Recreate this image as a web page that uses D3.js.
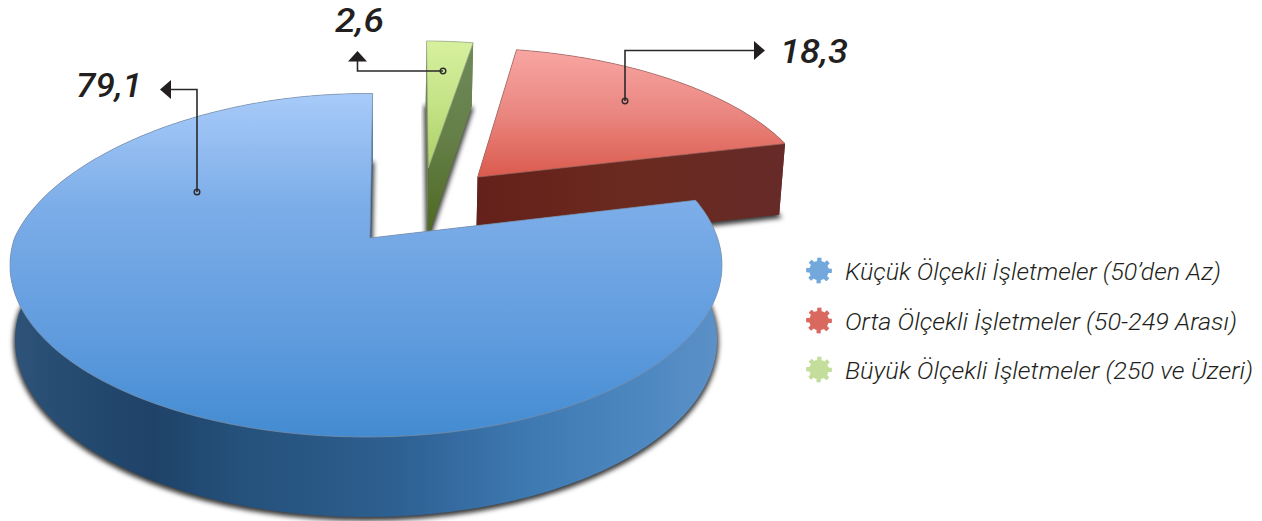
<!DOCTYPE html>
<html>
<head>
<meta charset="utf-8">
<script src="https://d3js.org/d3.v7.min.js"></script>
<style>
  html, body { margin: 0; background: #fff; }
  svg { display: block; }
  text { font-family: Roboto, sans-serif; font-style: italic; fill: #231f20; }
</style>
</head>
<body>
<svg id="chart" width="1262" height="521"></svg>
<script>
const categories = ["Küçük Ölçekli İşletmeler (50’den Az)", "Orta Ölçekli İşletmeler (50-249 Arası)", "Büyük Ölçekli İşletmeler (250 ve Üzeri)"]
const values = [79.1, 18.3, 2.6]
const valueLabels = ["79,1", "18,3", "2,6"]

const svg = d3.select("#chart")
const defs = svg.append("defs")

// floor plane -> screen, a simple perspective so the back of the pie shrinks
const cx = 366, cy = 238, a = 351.5, b = 167.4, p = -0.1587
const thickness = d3.scaleLinear().domain([43, 141, 437]).range([64, 71, 80])
function project([x, y], bottom) {
    const w = 1 + p * y
    let X = cx + a * x / w
    let Y = cy + b * y / w
    // the back left of the original rim sits a little further in
    if (x < 0 && y < 0) X += 20 * x * y
    if (bottom) {
        X = cx + (X - cx) * 0.986
        Y = Y + thickness(Y)
    }
    return [X, Y]
}

function linear(id, horizontal, from, to, stops) {
    const g = defs.append("linearGradient").attr("id", id)
        .attr("gradientUnits", "userSpaceOnUse")
        .attr("x1", horizontal ? from : 0).attr("x2", horizontal ? to : 0)
        .attr("y1", horizontal ? 0 : from).attr("y2", horizontal ? 0 : to)
    stops.forEach(s => g.append("stop").attr("offset", s[0]).attr("stop-color", s[1]))
}
linear("blueTop", false, 93, 437, [[0, "#a8cbf9"], [0.33, "#7cade8"], [0.7, "#609cde"], [1, "#438bd1"]])
linear("blueSide", true, 10, 722, [[0, "#2f5379"], [0.1, "#244a70"], [0.2, "#1f4268"], [0.33, "#25527c"], [0.47, "#2b5a88"],
    [0.56, "#2f6295"], [0.72, "#3d78b0"], [0.87, "#4b86bf"], [1, "#5c91c8"]])
linear("redTop", false, 50, 178, [[0, "#f8a6a2"], [0.5, "#ea8680"], [1, "#da5a4c"]])
linear("redSide", true, 478, 785, [[0, "#64201a"], [0.5, "#6b2a1f"], [1, "#662a28"]])
linear("greenTop", false, 41, 167, [[0, "#d7f09e"], [0.5, "#c4e386"], [1, "#aed068"]])
linear("greenSide", false, 43, 231, [[0, "#6f8a5b"], [0.5, "#657f48"], [1, "#4e6a22"]])

const blur = defs.append("filter").attr("id", "soft")
    .attr("x", "-10%").attr("y", "-10%").attr("width", "120%").attr("height", "120%")
blur.append("feGaussianBlur").attr("stdDeviation", 2.4)

// clockwise from the top: green, red, blue
const turn = 1.25 * Math.PI / 180
const pie = d3.pie().value(i => values[i]).sort((i, j) => j - i)
    .startAngle(turn).endAngle(turn + 2 * Math.PI)
const slices = pie(d3.range(values.length))

const look = [
    { top: "url(#blueTop)", side: "url(#blueSide)", strip: "#2d5c8f", rim: "#7f93ad", off: [0, 0], apex: [0.011, 0] },
    { top: "url(#redTop)", side: "url(#redSide)", strip: "#64201a", rim: "#a06a66", off: [0.337, -0.386], apex: [0.337, -0.386] },
    { top: "url(#greenTop)", side: "url(#greenSide)", strip: "#6a8550", rim: "#9aa88a", off: [0.19, -0.448], apex: [0.19, -0.448] }
]

const line = d3.line()
const closed = pts => line(pts) + "Z"

function drawSlice(i) {
    const s = slices.find(d => d.data === i)
    const st = look[i]
    const steps = Math.max(4, Math.ceil((s.endAngle - s.startAngle) / 0.02))
    const angles = d3.range(steps + 1).map(k => s.startAngle + (s.endAngle - s.startAngle) * k / steps)
    const rim = angles.map(t => [Math.sin(t) + st.off[0], -Math.cos(t) + st.off[1]])

    const topArc = rim.map(d => project(d, false))
    const lowArc = rim.map(d => project(d, true))
    const apexTop = project(st.apex, false)
    const apexLow = project(st.apex, true)
    const last = rim.length - 1
    const g = svg.append("g")

    g.append("path").attr("d", closed([apexLow, ...lowArc]))
        .attr("transform", "translate(0,2)")
        .attr("fill", "#000").attr("fill-opacity", 0.75)
        .attr("stroke", "#000").attr("stroke-opacity", 0.75).attr("stroke-width", 3)
        .attr("filter", "url(#soft)")
    g.append("path").attr("d", closed([...topArc, ...lowArc.slice().reverse()]))
        .attr("fill", st.side)
    g.append("path").attr("d", closed([apexTop, topArc[0], lowArc[0], apexLow]))
        .attr("fill", st.strip)
    g.append("path").attr("d", closed([apexTop, topArc[last], lowArc[last], apexLow]))
        .attr("fill", st.side)
    g.append("path").attr("d", closed([apexTop, ...topArc]))
        .attr("fill", st.top)
        .attr("stroke", st.rim).attr("stroke-width", 0.7)
}
[1, 2, 0].forEach(drawSlice)

// leader lines
const leaders = [
    { path: [[197, 192], [197, 89.5], [168, 89.5]], head: [[160, 89.5], [171, 80], [171, 99]] },
    { path: [[625, 101], [625, 50.5], [757, 50.5]], head: [[765, 50.5], [754, 41], [754, 60]] },
    { path: [[443, 71], [357.5, 71], [357.5, 60]], head: [[357.5, 51], [348, 61.5], [367, 61.5]] }
]
const labelPos = [[76, 97, 66], [780, 63, 68], [335, 32, 49]]

leaders.forEach((l, i) => {
    svg.append("path").attr("d", line(l.path))
        .attr("fill", "none").attr("stroke", "#2b2a2b").attr("stroke-width", 1.6)
    svg.append("path").attr("d", closed(l.head)).attr("fill", "#231f20")
    svg.append("circle").attr("cx", l.path[0][0]).attr("cy", l.path[0][1]).attr("r", 2.8)
        .attr("fill", "none").attr("stroke", "#2b2a2b").attr("stroke-width", 1.4)
    svg.append("text").attr("x", labelPos[i][0]).attr("y", labelPos[i][1])
        .attr("font-size", 33).attr("font-weight", 500)
        .attr("textLength", labelPos[i][2]).attr("lengthAdjust", "spacingAndGlyphs")
        .text(valueLabels[i])
})

// legend
const legendColors = ["#72a8dc", "#d9695f", "#c3dd9b"]
const legendY = [280, 330, 379]
const legendWidth = [376, 392, 408]
const gear = d3.lineRadial().angle(t => t).radius(t => 11.3 + 1.6 * Math.sign(Math.cos(8 * t))).curve(d3.curveLinearClosed)
const gearPath = gear(d3.range(0, 2 * Math.PI, Math.PI / 48))

categories.forEach((c, i) => {
    svg.append("path").attr("d", gearPath)
        .attr("transform", `translate(819,${legendY[i] - 9.5})`)
        .attr("fill", legendColors[i])
    svg.append("text").attr("x", 845).attr("y", legendY[i])
        .attr("font-size", 24).attr("font-weight", 300)
        .attr("textLength", legendWidth[i]).attr("lengthAdjust", "spacingAndGlyphs")
        .text(c)
})
</script>
</body>
</html>
